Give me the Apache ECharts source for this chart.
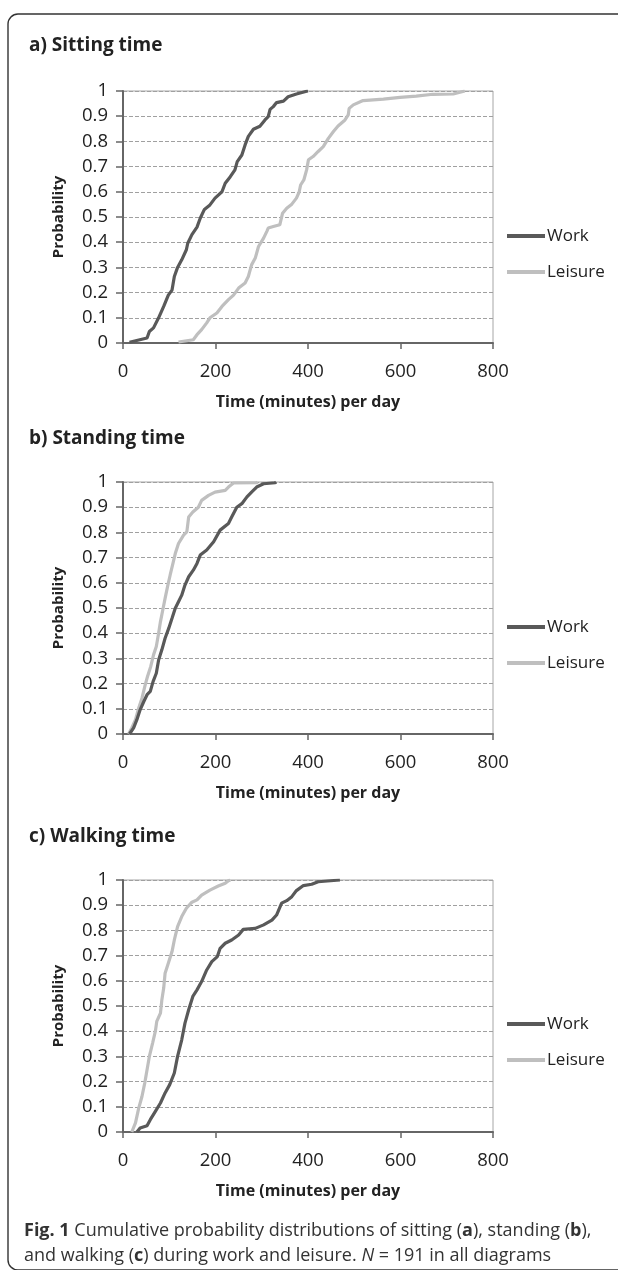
<!DOCTYPE html>
<html>
<head>
<meta charset="utf-8">
<script src="https://cdn.jsdelivr.net/npm/echarts@6/dist/echarts.min.js"></script>
<style>
  html, body { margin: 0; padding: 0; background: #fff; }
  #chart { width: 618px; height: 1270px; }
</style>
</head>
<body>
<div id="chart"></div>
<script>
// cumulative curves: [minutes, probability]
var sittingWork = [[14,0.003],[52,0.02],[57,0.046],[66,0.06],[77,0.1],[88,0.145],[98,0.19],[106,0.21],[111,0.264],[118,0.3],[127,0.33],[137,0.37],[140,0.396],[149,0.43],[160,0.46],[167,0.495],[176,0.53],[188,0.548],[199,0.575],[214,0.6],[221,0.634],[232,0.66],[242,0.687],[247,0.72],[257,0.746],[264,0.786],[271,0.82],[282,0.848],[296,0.86],[307,0.885],[314,0.898],[318,0.927],[325,0.938],[332,0.954],[347,0.96],[357,0.977],[375,0.988],[397,0.999],[400,1]];
var sittingLeisure = [[120,0.004],[152,0.013],[160,0.033],[170,0.053],[181,0.08],[188,0.1],[203,0.119],[214,0.145],[228,0.172],[239,0.19],[250,0.218],[264,0.238],[271,0.264],[278,0.31],[286,0.337],[293,0.383],[304,0.416],[311,0.443],[314,0.456],[325,0.462],[339,0.469],[345,0.515],[354,0.535],[365,0.551],[375,0.575],[381,0.6],[384,0.627],[391,0.647],[397,0.687],[401,0.727],[411,0.74],[422,0.76],[433,0.779],[444,0.812],[455,0.839],[465,0.861],[480,0.885],[487,0.905],[489,0.931],[498,0.945],[519,0.962],[563,0.968],[599,0.975],[634,0.98],[670,0.987],[714,0.988],[739,1]];

var standingWork = [[14,0],[23,0.024],[30,0.057],[37,0.096],[45,0.129],[52,0.156],[59,0.169],[65,0.208],[72,0.241],[77,0.294],[84,0.334],[91,0.38],[99,0.42],[106,0.459],[113,0.499],[120,0.525],[127,0.551],[134,0.591],[142,0.624],[152,0.65],[160,0.677],[167,0.71],[181,0.73],[196,0.763],[210,0.809],[228,0.835],[235,0.861],[246,0.9],[257,0.914],[268,0.941],[278,0.96],[289,0.98],[304,0.993],[329,0.997],[331,1]];
var standingLeisure = [[12,0],[19,0.024],[27,0.057],[34,0.103],[41,0.142],[48,0.195],[53,0.228],[60,0.268],[66,0.314],[72,0.347],[77,0.4],[81,0.446],[86,0.492],[91,0.538],[97,0.591],[102,0.631],[108,0.677],[113,0.716],[120,0.756],[131,0.789],[138,0.802],[142,0.861],[151,0.881],[163,0.9],[170,0.927],[185,0.947],[199,0.96],[221,0.967],[228,0.98],[239,0.996],[289,0.997],[291,1]];

var walkingWork = [[30,0],[37,0.016],[52,0.025],[59,0.049],[70,0.082],[81,0.115],[91,0.155],[101,0.188],[111,0.234],[118,0.3],[127,0.366],[134,0.432],[142,0.485],[151,0.538],[160,0.564],[170,0.597],[181,0.643],[192,0.676],[204,0.696],[210,0.729],[221,0.749],[235,0.762],[250,0.782],[260,0.804],[286,0.808],[304,0.822],[322,0.841],[332,0.861],[343,0.908],[354,0.918],[365,0.934],[375,0.958],[390,0.978],[408,0.983],[422,0.993],[469,1]];
var walkingLeisure = [[19,0],[27,0.036],[34,0.095],[41,0.141],[47,0.194],[52,0.247],[57,0.3],[64,0.353],[70,0.4],[73,0.439],[81,0.472],[84,0.524],[88,0.571],[91,0.63],[99,0.676],[106,0.716],[111,0.762],[118,0.815],[127,0.855],[137,0.888],[149,0.912],[160,0.921],[170,0.94],[188,0.96],[206,0.976],[221,0.987],[228,0.997],[232,1]];

var panelTitles = ['a) Sitting time', 'b) Standing time', 'c) Walking time'];
var seriesNames = ['Work', 'Leisure'];
var xTicks = [0, 800, 200];   // min, max, step
var yTicks = [0, 1, 0.1];

var panels = [
  {top: 91, titleY: 50, legendY: 226, data: [sittingWork, sittingLeisure]},
  {top: 482, titleY: 443, legendY: 617, data: [standingWork, standingLeisure]},
  {top: 880, titleY: 841, legendY: 1014, data: [walkingWork, walkingLeisure]}
];
var colors = ['#595959', '#bfbfbf'];
var FONT = 'Open Sans';

var chart = echarts.init(document.getElementById('chart'));

var grids = [], xAxes = [], yAxes = [], series = [], legends = [], graphics = [];

panels.forEach(function (p, i) {
    grids.push({
        left: 123, top: p.top, width: 370, height: 252,
        show: true, borderColor: '#a6a6a6', borderWidth: 1
    });
    xAxes.push({
        type: 'value', gridIndex: i,
        min: xTicks[0], max: xTicks[1], interval: xTicks[2],
        name: 'Time (minutes) per day', nameLocation: 'middle', nameGap: 51,
        nameTextStyle: {fontFamily: FONT, fontWeight: 'bold', fontSize: 16, color: '#222'},
        axisLine: {show: true, lineStyle: {color: '#666', width: 2}},
        axisTick: {show: true, length: 6, lineStyle: {color: '#666', width: 1.5}},
        axisLabel: {fontFamily: FONT, fontSize: 18.5, color: '#222', margin: 19},
        splitLine: {show: false}
    });
    yAxes.push({
        type: 'value', gridIndex: i,
        min: yTicks[0], max: yTicks[1], interval: yTicks[2],
        name: 'Probability', nameLocation: 'middle', nameRotate: 90, nameGap: 57,
        nameTextStyle: {fontFamily: FONT, fontWeight: 'bold', fontSize: 15, color: '#222'},
        axisLine: {show: true, lineStyle: {color: '#666', width: 2}},
        axisTick: {show: true, length: 7, lineStyle: {color: '#666', width: 1.5}},
        axisLabel: {
            fontFamily: FONT, fontSize: 18.5, color: '#222', margin: 15,
            formatter: function (v) { return String(+v.toFixed(1)); }
        },
        splitLine: {show: true, lineStyle: {color: '#a0a0a0', type: [4, 2], width: 1}}
    });
    p.data.forEach(function (d, k) {
        series.push({
            name: seriesNames[k], type: 'line',
            xAxisIndex: i, yAxisIndex: i,
            data: d, showSymbol: false, symbol: 'none',
            lineStyle: {color: colors[k], width: 3.2},
            itemStyle: {color: colors[k]},
            z: 3 - k
        });
    });
    legends.push({
        data: seriesNames, orient: 'vertical',
        left: 507, top: p.legendY, padding: 0,
        icon: 'rect', itemWidth: 38, itemHeight: 4, itemGap: 16,
        textStyle: {fontFamily: FONT, fontSize: 17, color: '#222', lineHeight: 20, padding: [0, 0, 0, -3]}
    });
    graphics.push({
        type: 'text', left: 29, top: p.titleY - 14,
        style: {text: panelTitles[i], font: 'bold 19px "Open Sans"', fill: '#222'}
    });
});

// frame round the figure
graphics.push({
    type: 'rect', shape: {x: 8, y: 14, width: 700, height: 1256, r: 10},
    style: {fill: 'none', stroke: '#333', lineWidth: 1.4}, z: -1
});
// caption
graphics.push({
    type: 'text', left: 24, top: 1218,
    style: {
        text: '{b|Fig. 1} Cumulative probability distributions of sitting ({b|a}), standing ({b|b}),\nand walking ({b|c}) during work and leisure. {i|N} = 191 in all diagrams',
        font: '18px "Open Sans"', fill: '#333', lineHeight: 25,
        rich: {
            b: {fontFamily: FONT, fontWeight: 'bold', fontSize: 18, fill: '#333'},
            i: {fontFamily: FONT, fontStyle: 'italic', fontSize: 18, fill: '#333'}
        }
    }
});

chart.setOption({
    animation: false,
    grid: grids,
    xAxis: xAxes,
    yAxis: yAxes,
    legend: legends,
    series: series,
    graphic: graphics
});
</script>
</body>
</html>
